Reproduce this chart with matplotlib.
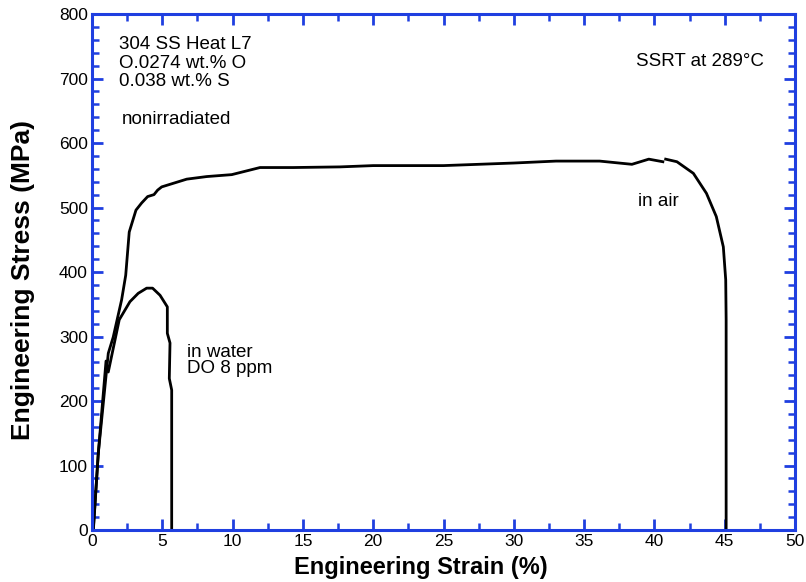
import matplotlib
matplotlib.use("Agg")
import matplotlib.pyplot as plt
from matplotlib.ticker import MultipleLocator

plt.rcParams['font.family'] = ['Liberation Sans', 'DejaVu Sans']

# In-air curve (main part)
air_strain = [0.09, 0.45, 1.16, 1.51, 2.11, 2.40, 2.65, 3.13, 3.53, 3.96, 4.41, 4.67, 4.96,
              6.74, 8.16, 9.94, 11.95, 14.32, 17.64, 20.0, 25.0, 30.0, 33.0, 36.1, 38.4, 39.6, 40.6]
air_stress = [0, 119, 274, 299, 357, 395, 462, 496, 507, 517, 520, 527, 532,
              544, 548, 551, 562, 562, 563, 565, 565, 569, 572, 572, 567, 575, 571]
# In-air curve (fracture tail)
air_tail_strain = [40.8, 41.6, 42.77, 43.7, 44.4, 44.9, 45.07, 45.1, 45.1]
air_tail_stress = [575, 571, 553, 522, 486, 439, 388, 326, 0]

# In-water curve
water_strain = [0.1, 0.45, 1.0, 1.16, 1.94, 2.70, 3.29, 3.89, 4.31, 4.84, 5.36, 5.36, 5.55, 5.50, 5.67, 5.67]
water_stress = [0, 119, 262, 245, 326, 354, 367, 375, 375, 364, 346, 305, 290, 235, 217, 0]

blue = '#1f3fe0'

fig = plt.figure(figsize=(8.06, 5.82), dpi=100)
ax = fig.add_axes([0.1141, 0.0893, 0.8723, 0.8866])

ax.plot(air_strain, air_stress, color='black', lw=2.0)
ax.plot(air_tail_strain, air_tail_stress, color='black', lw=2.0)
ax.plot(water_strain, water_stress, color='black', lw=2.0)

ax.set_xlim(0, 50)
ax.set_ylim(0, 800)
ax.xaxis.set_major_locator(MultipleLocator(5))
ax.xaxis.set_minor_locator(MultipleLocator(2.5))
ax.yaxis.set_major_locator(MultipleLocator(100))
ax.yaxis.set_minor_locator(MultipleLocator(20))

for s in ax.spines.values():
    s.set_color(blue)
    s.set_linewidth(2.2)
ax.tick_params(which='both', direction='in', top=True, right=True, color=blue,
               labelsize=12.5, labelcolor='black')
ax.tick_params(which='major', length=8, width=2.0, pad=3)
ax.tick_params(which='minor', length=5, width=1.8)

ax.set_xlabel('Engineering Strain (%)', fontsize=17, fontweight='bold')
ax.set_ylabel('Engineering Stress (MPa)', fontsize=19, fontweight='bold')
ax.xaxis.set_label_coords((421 - 92) / 703, -(567 - 530) / 516, transform=ax.transAxes)
ax.xaxis.label.set_va('center')
ax.yaxis.set_label_coords(-(92 - 23) / 703, 0.485, transform=ax.transAxes)
ax.yaxis.label.set_va('center')

fs = 13.5
ax.text(1.92, 752, '304 SS Heat L7', fontsize=fs, va='center')
ax.text(1.92, 723, 'O.0274 wt.% O', fontsize=fs, va='center')
ax.text(1.92, 695, '0.038 wt.% S', fontsize=fs, va='center')
ax.text(2.1, 636, 'nonirradiated', fontsize=fs, va='center')
ax.text(47.8, 726, 'SSRT at 289°C', fontsize=fs, va='center', ha='right')
ax.text(38.8, 510, 'in air', fontsize=fs, va='center')
ax.text(6.75, 276, 'in water', fontsize=fs, va='center')
ax.text(6.75, 250, 'DO 8 ppm', fontsize=fs, va='center')

fig.savefig('out.png', dpi=100)
